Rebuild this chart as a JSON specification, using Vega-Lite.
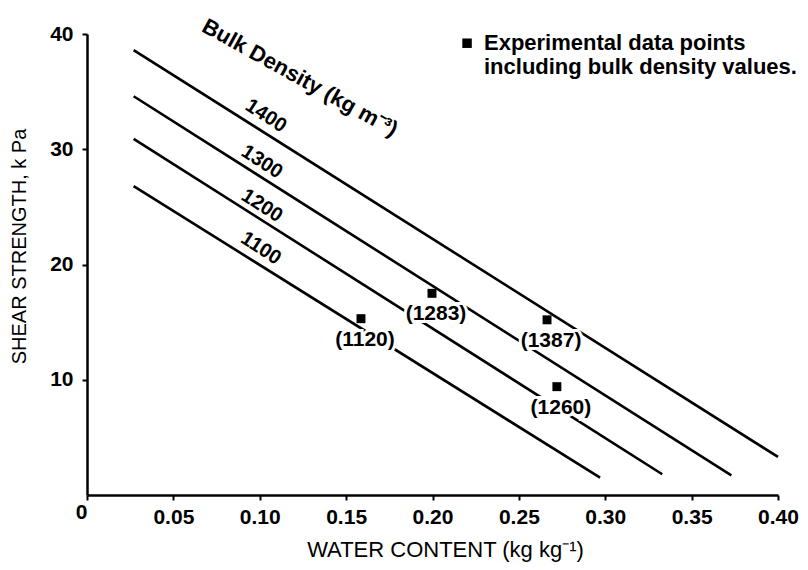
{
  "$schema": "https://vega.github.io/schema/vega-lite/v6.json",
  "width": 691,
  "height": 461,
  "autosize": "none",
  "padding": {"left": 87, "top": 34, "right": 30, "bottom": 75},
  "background": "white",
  "config": {
    "view": {"stroke": null},
    "font": "Liberation Sans",
    "axis": {
      "grid": false,
      "domainColor": "black",
      "domainWidth": 2.5,
      "tickColor": "black",
      "tickWidth": 2,
      "tickSize": 5,
      "labelColor": "black",
      "labelFont": "Liberation Sans",
      "labelFontSize": 21,
      "labelFontWeight": "bold",
      "titleColor": "black",
      "titleFont": "Liberation Sans",
      "titleFontWeight": "normal"
    }
  },
  "datasets": {
    "lines": [
      {"bd": "1400", "w": 0.027, "s": 38.6}, {"bd": "1400", "w": 0.400, "s": 3.3},
      {"bd": "1300", "w": 0.027, "s": 34.6}, {"bd": "1300", "w": 0.373, "s": 1.7},
      {"bd": "1200", "w": 0.027, "s": 30.9}, {"bd": "1200", "w": 0.333, "s": 1.8},
      {"bd": "1100", "w": 0.027, "s": 26.8}, {"bd": "1100", "w": 0.297, "s": 1.5}
    ],
    "linelabels": [
      {"label": "1400", "w": 0.1036, "s": 32.9},
      {"label": "1300", "w": 0.1013, "s": 28.9},
      {"label": "1200", "w": 0.1013, "s": 25.1},
      {"label": "1100", "w": 0.1007, "s": 21.4}
    ],
    "points": [
      {"label": "(1120)", "w": 0.1586, "s": 15.3},
      {"label": "(1283)", "w": 0.1997, "s": 17.5},
      {"label": "(1387)", "w": 0.2663, "s": 15.2},
      {"label": "(1260)", "w": 0.272, "s": 9.4}
    ],
    "title": [
      {"text": "Bulk Density (kg m⁻³)", "w": 0.1233, "s": 36.2}
    ],
    "legendmark": [
      {"w": 0.22, "s": 39.2}
    ],
    "legendtext": [
      {"text": "Experimental data points", "w": 0.2298, "s": 39.2},
      {"text": "including bulk density values.", "w": 0.2298, "s": 37.1}
    ]
  },
  "encoding": {
    "x": {
      "field": "w",
      "type": "quantitative",
      "scale": {"domain": [0, 0.4], "nice": false, "zero": false},
      "axis": {
        "title": "WATER CONTENT (kg kg⁻¹)",
        "titleFontSize": 22,
        "titlePadding": 12,
        "titleX": 358,
        "values": [0, 0.05, 0.1, 0.15, 0.2, 0.25, 0.3, 0.35, 0.4],
        "labelExpr": "datum.value === 0 ? '0' : format(datum.value, '.2f')",
        "labelPadding": {"condition": {"test": "datum.value === 0", "value": 1}, "value": 6},
        "labelOffset": {"condition": {"test": "datum.value === 0", "value": -6}, "value": 0},
        "labelFlush": false,
        "labelOverlap": false
      }
    },
    "y": {
      "field": "s",
      "type": "quantitative",
      "scale": {"domain": [0, 40], "nice": false, "zero": false},
      "axis": {
        "title": "SHEAR STRENGTH, k Pa",
        "titleFontSize": 20,
        "titleX": -58,
        "titleY": 212,
        "values": [10, 20, 30, 40],
        "labelPadding": 9,
        "labelFlush": false,
        "labelOverlap": false
      }
    }
  },
  "layer": [
    {
      "data": {"name": "lines"},
      "mark": {"type": "line", "color": "black", "strokeWidth": 2.6},
      "encoding": {"detail": {"field": "bd"}}
    },
    {
      "data": {"name": "linelabels"},
      "mark": {"type": "text", "angle": 33, "fontSize": 20, "fontWeight": "bold", "stroke": "white", "strokeWidth": 6, "fill": "white"},
      "encoding": {"text": {"field": "label"}}
    },
    {
      "data": {"name": "linelabels"},
      "mark": {"type": "text", "angle": 33, "fontSize": 20, "fontWeight": "bold", "color": "black"},
      "encoding": {"text": {"field": "label"}}
    },
    {
      "data": {"name": "points"},
      "mark": {"type": "text", "fontSize": 21, "fontWeight": "bold", "dx": 4, "dy": 21, "stroke": "white", "strokeWidth": 6, "fill": "white"},
      "encoding": {"text": {"field": "label"}}
    },
    {
      "data": {"name": "points"},
      "mark": {"type": "square", "size": 80, "filled": true, "color": "black", "opacity": 1},
      "encoding": {}
    },
    {
      "data": {"name": "points"},
      "mark": {"type": "text", "fontSize": 21, "fontWeight": "bold", "dx": 4, "dy": 21, "color": "black"},
      "encoding": {"text": {"field": "label"}}
    },
    {
      "data": {"name": "title"},
      "mark": {"type": "text", "angle": 29, "fontSize": 22, "fontWeight": "bold", "color": "black"},
      "encoding": {"text": {"field": "text"}}
    },
    {
      "data": {"name": "legendmark"},
      "mark": {"type": "square", "size": 90, "filled": true, "color": "black", "opacity": 1},
      "encoding": {}
    },
    {
      "data": {"name": "legendtext"},
      "mark": {"type": "text", "align": "left", "fontSize": 22, "fontWeight": "bold", "color": "black"},
      "encoding": {"text": {"field": "text"}}
    }
  ]
}
